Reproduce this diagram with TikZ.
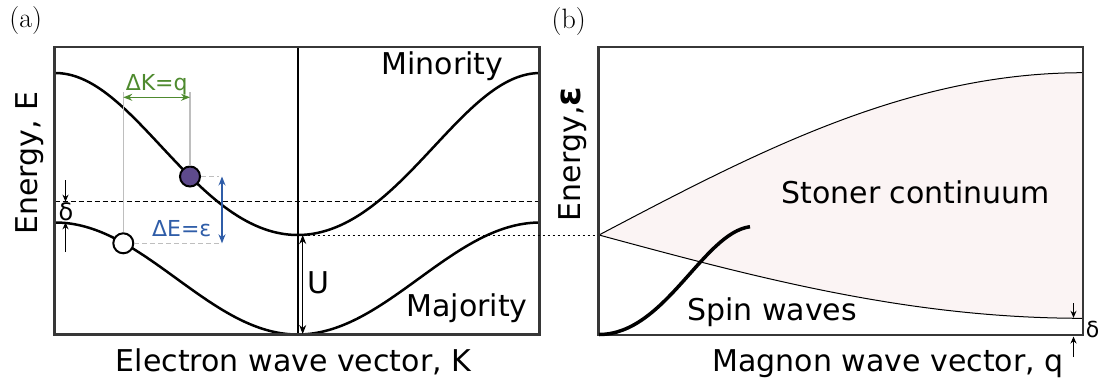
\documentclass[tikz,border=0pt]{standalone}
\usepackage{fontspec}
\newfontfamily\dv{DejaVu Sans}
\usetikzlibrary{arrows.meta}
\definecolor{elpurple}{RGB}{94,74,140}
\definecolor{dkgreen}{RGB}{78,138,46}
\definecolor{dblue}{RGB}{47,93,168}
\definecolor{stonerpink}{RGB}{251,244,244}
\definecolor{boxgray}{RGB}{55,55,55}
\definecolor{guidegray}{RGB}{190,190,190}
\tikzset{
  panelbox/.style={draw=boxgray, line width=2.2pt},
  band/.style={line width=2.5pt, black},
  fermi/.style={dash pattern=on 5pt off 3pt, line width=1.2pt},
  finedash/.style={dash pattern=on 2.5pt off 2.5pt, line width=1pt},
  guide/.style={draw=guidegray, line width=1.3pt},
  guidedash/.style={draw=guidegray, line width=1.3pt, dash pattern=on 5pt off 3pt},
  dimarrow/.style={{Stealth[length=9pt,width=7pt]}-{Stealth[length=9pt,width=7pt]}, line width=1.3pt},
  onearrow/.style={-{Stealth[length=7pt,width=6pt]}, line width=1.1pt},
  thincurve/.style={line width=1pt, black},
  lbl/.style={font=\dv\fontsize{30}{35}\selectfont, inner sep=0pt},
  smalllbl/.style={font=\dv\fontsize{22}{26}\selectfont, inner sep=0pt},
  panellbl/.style={font=\fontsize{28}{33}\selectfont, inner sep=0pt},
  electron/.style={circle, draw=black, line width=2pt, fill=elpurple, minimum size=20pt, inner sep=0pt},
  hole/.style={circle, draw=black, line width=2pt, fill=white, minimum size=20pt, inner sep=0pt},
}
\begin{document}
\begin{tikzpicture}[x=1pt,y=-1pt]
\useasboundingbox (0,0) rectangle (1102,381);
% ---------------- panel (a)
\node[panellbl] (pa) at (25.8,21) {(a)};
\draw[fermi] (54.5,201.7) -- (539.5,201.7);
\draw[band] plot[domain=55:539.5, samples=160] (\x, {158.3+81*cos(0.742268*(\x-297.7))-4.3*cos(1.484536*(\x-297.7))});
\draw[band] plot[domain=55:539.5, samples=160] (\x, {278.5+56*cos(0.742268*(\x-297.7))});
\draw[line width=2.2pt] (297.7,46.7) -- (297.7,334.5);
\draw[panelbox] (54.5,46.7) rectangle (539.5,334.5);
% guides
\coordinate (gkL) at (123.3,92);
\coordinate (gkR) at (190,92);
\coordinate (gE1) at (219,176.5);
\coordinate (gE2) at (219,243.3);
\node[hole] (ho) at (123.3,243.3) {};
\node[electron] (el) at (190,176.5) {};
\draw[guide] (ho) -- (gkL);
\draw[guide] (el) -- (gkR);
\draw[guidedash] (el) -- (gE1);
\draw[guidedash] (ho) -- (gE2);
% Delta K
\coordinate (kL) at (123.3,97.3);
\coordinate (kR) at (190,97.3);
\draw[dimarrow, dkgreen] (kL) -- (kR);
\node[smalllbl, text=dkgreen, anchor=base] (dk) at (156.7,90) {ΔK=q};
% Delta E
\coordinate (eT) at (222,176.5);
\coordinate (eB) at (222,243.3);
\draw[dimarrow, dblue] (eT) -- (eB);
\node[smalllbl, text=dblue, anchor=base] (de) at (181.7,236) {ΔE=ε};
% delta (a)
\coordinate (d1s) at (65.5,180);
\coordinate (d1e) at (65.5,201.7);
\coordinate (d2s) at (65.5,252);
\coordinate (d2e) at (65.5,222.3);
\draw[onearrow] (d1s) -- (d1e);
\draw[onearrow] (d2s) -- (d2e);
\node[font=\dv\fontsize{24}{28}\selectfont, inner sep=0pt, anchor=base] (da) at (66,220) {δ};
% U
\coordinate (Ut) at (302.7,235);
\coordinate (Ub) at (302.7,334);
\draw[dimarrow, line width=1.1pt] (Ut) -- (Ub);
\node[lbl, anchor=base] (U) at (318,293) {U};
\node[lbl, anchor=base] (mino) at (442.5,74.5) {Minority};
\node[lbl, anchor=base] (majo) at (467,316.7) {Majority};
\node[lbl, anchor=base] (xa) at (293.5,371) {Electron wave vector, K};
\node[lbl, anchor=base, rotate=90] (ya) at (37,163) {Energy, E};
% ---------------- panel (b)
\node[panellbl] (pb) at (568.7,22) {(b)};
\fill[stonerpink] plot[domain=599:1083, samples=120] (\x,{235-162.3*sin(0.18595*(\x-599))})
  -- plot[domain=1083:599, samples=120] (\x,{235+83.3*sin(0.18595*(\x-599))}) -- cycle;
\draw[thincurve] plot[domain=599:1083, samples=120] (\x,{235-162.3*sin(0.18595*(\x-599))});
\draw[thincurve] plot[domain=599:1083, samples=120] (\x,{235+83.3*sin(0.18595*(\x-599))});
\coordinate (mm) at (297.7,235);
\coordinate (b0) at (598.5,235);
\draw[finedash] (mm) -- (b0);
\draw[panelbox] (598.5,46.7) rectangle (1083,335);
\coordinate (sw0) at (599,334.5);
\coordinate (sw1) at (750,226.7);
\draw[line width=3.5pt] (sw0) .. controls (665,334.5) and (703,233) .. (sw1);
\node[lbl, anchor=base] (st) at (915.8,203.3) {Stoner continuum};
\node[lbl, anchor=base] (sp) at (772,320) {Spin waves};
\node[lbl, anchor=base] (xb) at (888,371) {Magnon wave vector, q};
\node[lbl, anchor=base, rotate=90] (yb) at (580,154) {Energy,{\bfseries\fontsize{35}{38}\selectfont ε}};
% delta (b)
\coordinate (e1s) at (1073.5,303);
\coordinate (e1e) at (1073.5,317.8);
\coordinate (e2s) at (1073.5,357);
\coordinate (e2e) at (1073.5,336.5);
\draw[onearrow] (e1s) -- (e1e);
\draw[onearrow] (e2s) -- (e2e);
\node[font=\dv\fontsize{22}{26}\selectfont, inner sep=0pt, anchor=base] (db) at (1092.5,337) {δ};
\end{tikzpicture}
\end{document}
